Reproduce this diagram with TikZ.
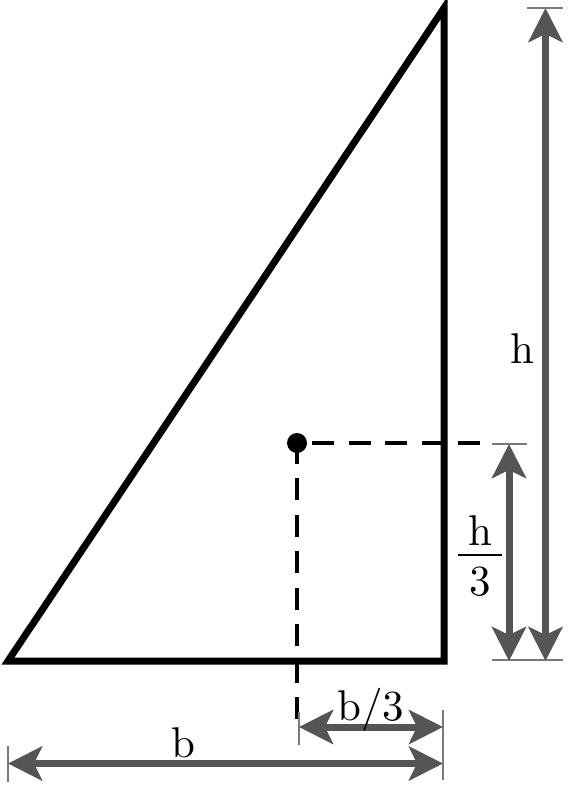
\documentclass[tikz,border=0pt]{standalone}
\usepackage{fontspec}
\setmainfont{lmroman10-regular.otf}
\usetikzlibrary{arrows.meta}
\definecolor{dimgray}{HTML}{555555}
\definecolor{tickgray}{HTML}{7A7A7A}
\begin{document}
\begin{tikzpicture}[x=1pt,y=-1pt,
		>={Stealth[length=34pt,width=34pt,inset=8pt]},
		dimline/.style={<->,draw=dimgray,line width=7pt},
		tickline/.style={draw=tickgray,line width=2pt},
		guide/.style={line width=4pt,dash pattern=on 22pt off 14.5pt},
		lbl/.style={anchor=base,inner sep=0pt,font=\fontsize{43}{52}\selectfont}]
		\useasboundingbox (0,0) rectangle (582,800);
		% Corners of the triangle and its centroid
		\coordinate (A) at (8,661);
		\coordinate (B) at (444,661);
		\coordinate (C) at (444,8);
		\coordinate (G) at (297,443);
		\draw[line width=7pt,line join=miter] (A) -- (B) -- (C) -- cycle;
		% Dashed guides from the centroid
		\coordinate (Gright) at (480,443);
		\coordinate (Gdown) at (297,719);
		\draw[guide] (Gright) -- (G);
		\draw[guide] (Gdown) -- (G);
		\fill (G) circle (10pt);
		% Extension ticks
		\draw[tickline] (527,8) -- (563,8);
		\draw[tickline] (492,444) -- (527,444);
		\draw[tickline] (492,660) -- (563,660);
		\draw[tickline] (299,712) -- (299,745);
		\draw[tickline] (443,710) -- (443,780);
		\draw[tickline] (8,746) -- (8,782);
		% Dimension arrows
		\coordinate (hTop) at (545.5,8);
		\coordinate (hBot) at (545.5,661);
		\coordinate (hthirdTop) at (509,444);
		\coordinate (hthirdBot) at (509,661);
		\coordinate (bthirdL) at (299,727);
		\coordinate (bthirdR) at (443,727);
		\coordinate (bL) at (8,763.5);
		\coordinate (bR) at (443,763.5);
		\draw[dimline] (hTop) -- (hBot);
		\draw[dimline] (hthirdTop) -- (hthirdBot);
		\draw[dimline] (bthirdL) -- (bthirdR);
		\draw[dimline] (bL) -- (bR);
		% Labels
		\node[lbl] (hlabel) at (522,363) {h};
		\node[lbl] (hthirdnum) at (480,545) {h};
		\node[lbl] (hthirdden) at (480,595) {3};
		\draw[line width=2pt] (458,555) -- (502,555);
		\node[lbl] (bthirdlabel) at (371,720) {b/3};
		\node[lbl] (blabel) at (183,757) {b};
	\end{tikzpicture}
\end{document}
